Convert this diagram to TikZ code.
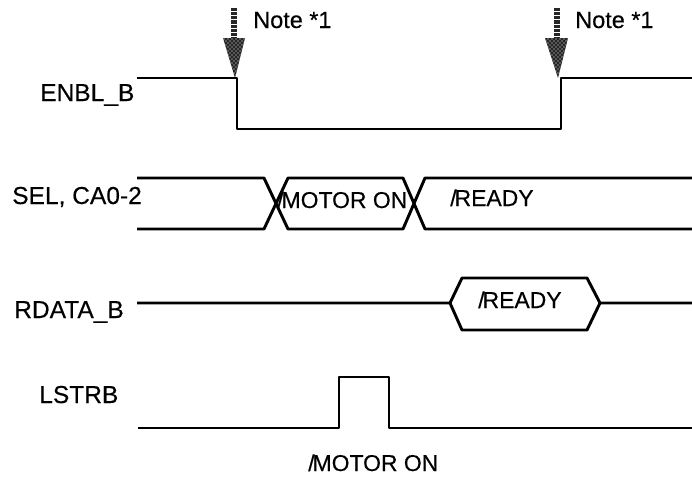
\documentclass[tikz,border=0pt]{standalone}
\usepackage{fontspec}
\setmainfont{Liberation Sans}
\newfontfamily\scanfont[FakeBold=0.3]{Liberation Sans}
\usetikzlibrary{patterns}
\newcommand{\slk}{/\kern-0.09em}
\tikzset{
  x=0.75pt,y=-0.75pt,
  sig/.style={line width=2.2pt,black,line join=round},
  lab/.style={font=\scanfont\fontsize{18.4}{20}\selectfont,inner sep=0pt,anchor=base west,black},
  notelab/.style={font=\scanfont\fontsize{17.6}{20}\selectfont,inner sep=0pt,anchor=base west,black},
  inlab/.style={font=\scanfont\fontsize{17.2}{20}\selectfont,inner sep=0pt,anchor=base west,black},
  shaft/.style={line width=4.2pt,black!85,dash pattern=on 2.4pt off 0.7pt},
  headbase/.style={fill=black!85},
  headdots/.style={pattern=crosshatch dots,pattern color=white}
}
\begin{document}
\begin{tikzpicture}
\useasboundingbox (0,0) rectangle (692,479);
% labels
\node[lab] (l1) at (40,101) {ENBL\_B};
\node[lab] (l2) at (12,204) {SEL, CA0-2};
\node[lab] (l3) at (14,318) {RDATA\_B};
\node[lab] (l4) at (39,403) {LSTRB};
\node[inlab] (m1) at (277,208) {\slk MOTOR ON};
\node[inlab] (m2) at (450,206) {\slk READY};
\node[inlab] (m3) at (478,308) {\slk READY};
\node[inlab] (m4) at (308,471) {\slk MOTOR ON};
\node[notelab] (n1) at (253,28) {Note *1};
\node[notelab] (n2) at (575,28) {Note *1};
% arrows
\coordinate (s1) at (234,8);
\coordinate (j1) at (234,40);
\coordinate (hl1) at (223,38);
\coordinate (hr1) at (245,38);
\coordinate (a1) at (235,78);
\coordinate (s2) at (557,8);
\coordinate (j2) at (557,40);
\coordinate (hl2) at (545,38);
\coordinate (hr2) at (568,38);
\coordinate (a2) at (558,78);
\draw[shaft] (s1) -- (j1);
\draw[shaft] (s2) -- (j2);
\fill[headbase] (hl1) -- (hr1) -- (a1) -- cycle;
\fill[headbase] (hl2) -- (hr2) -- (a2) -- cycle;
\fill[headdots] (hl1) -- (hr1) -- (a1) -- cycle;
\fill[headdots] (hl2) -- (hr2) -- (a2) -- cycle;
% ENBL_B
\draw[sig] (137,78) -- (237,78) -- (237,129) -- (561,129) -- (561,78) -- (692,78);
% SEL
\draw[sig] (137,178) -- (264,178) -- (288,229) -- (403,229) -- (425,178) -- (692,178);
\draw[sig] (137,229) -- (264,229) -- (288,178) -- (403,178) -- (425,229) -- (692,229);
% RDATA
\draw[sig] (137,303) -- (450,303) -- (462,278) -- (587,278) -- (600,303) -- (692,303);
\draw[sig] (450,303) -- (462,330) -- (587,330) -- (600,303);
% LSTRB
\draw[sig] (138,428) -- (339,428) -- (339,377) -- (389,377) -- (389,428) -- (692,428);
\end{tikzpicture}
\end{document}
